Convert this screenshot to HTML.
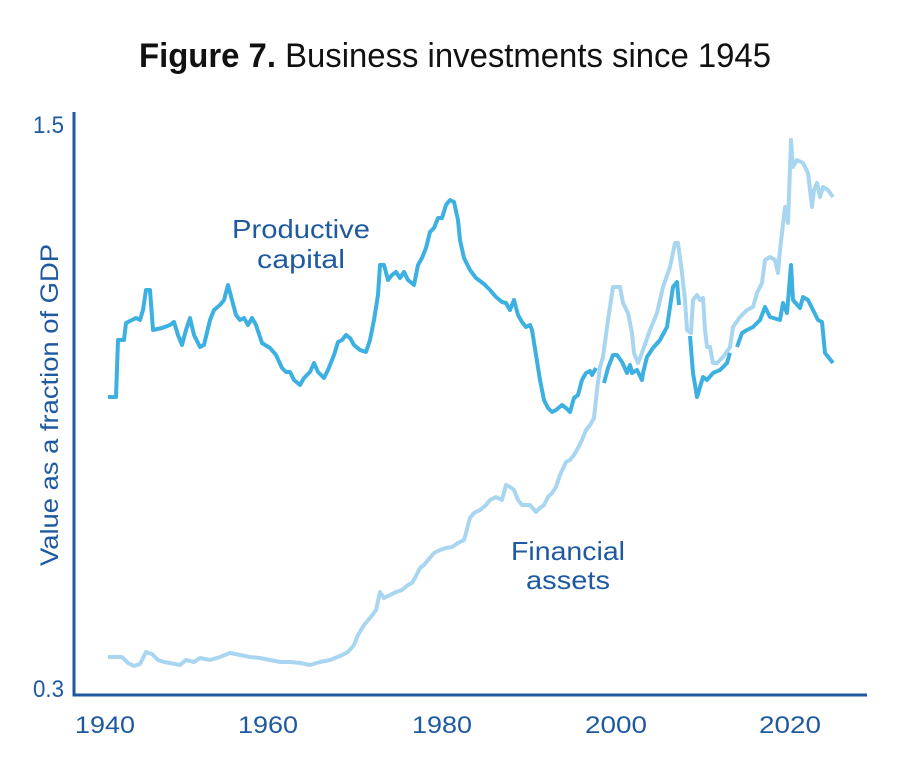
<!DOCTYPE html>
<html><head><meta charset="utf-8"><style>
html,body{margin:0;padding:0;background:#fff;width:900px;height:774px;overflow:hidden}
</style></head><body>
<svg width="900" height="774" viewBox="0 0 900 774" xmlns="http://www.w3.org/2000/svg" font-family="Liberation Sans, sans-serif">
<text x="455" y="67" text-anchor="middle" font-size="34" fill="#111" textLength="632" lengthAdjust="spacingAndGlyphs"><tspan font-weight="bold">Figure 7.</tspan> Business investments since 1945</text>
<g fill="#1f5aa0">
<text x="64" y="133" text-anchor="end" font-size="24" textLength="31" lengthAdjust="spacingAndGlyphs">1.5</text>
<text x="64" y="697" text-anchor="end" font-size="24" textLength="31" lengthAdjust="spacingAndGlyphs">0.3</text>
<text x="105" y="733" text-anchor="middle" font-size="24" textLength="60" lengthAdjust="spacingAndGlyphs">1940</text>
<text x="268" y="733" text-anchor="middle" font-size="24" textLength="60" lengthAdjust="spacingAndGlyphs">1960</text>
<text x="442" y="733" text-anchor="middle" font-size="24" textLength="60" lengthAdjust="spacingAndGlyphs">1980</text>
<text x="616" y="733" text-anchor="middle" font-size="24" textLength="62" lengthAdjust="spacingAndGlyphs">2000</text>
<text x="790" y="733" text-anchor="middle" font-size="24" textLength="62" lengthAdjust="spacingAndGlyphs">2020</text>
<text transform="translate(58,405) rotate(-90)" text-anchor="middle" font-size="25" textLength="322" lengthAdjust="spacingAndGlyphs">Value as a fraction of GDP</text>
<text x="301" y="238" text-anchor="middle" font-size="26" textLength="138" lengthAdjust="spacingAndGlyphs">Productive</text>
<text x="301" y="268" text-anchor="middle" font-size="26" textLength="88" lengthAdjust="spacingAndGlyphs">capital</text>
<text x="568" y="560" text-anchor="middle" font-size="26" textLength="114" lengthAdjust="spacingAndGlyphs">Financial</text>
<text x="568" y="589" text-anchor="middle" font-size="26" textLength="84" lengthAdjust="spacingAndGlyphs">assets</text>
</g>
<path d="M74 112 V695 H867" fill="none" stroke="#1f5aa0" stroke-width="3"/>
<polyline fill="none" stroke="#a8d6f0" stroke-width="4" stroke-linejoin="round" points="108,657 122,657 128,663 134,666 140,664 146,652 152,654 158,660 164,662 170,663 180,665 186,660 194,662 200,658 210,660 220,657 230,653 240,655 250,657 260,658 270,660 280,662 290,662 300,663 310,665 320,662 330,660 340,656 348,652 354,645 358,635 364,625 370,618 376,610 380,592 384,598 390,595 396,592 402,590 408,585 412,583 416,576 420,568 424,565 428,560 434,553 440,550 446,548 452,547 458,543 464,540 466,533 470,518 474,513 480,510 486,505 490,500 496,497 502,500 506,485 510,487 514,490 518,500 522,505 530,505 536,512 540,508 544,505 548,497 552,493 556,487 560,475 566,462 570,460 574,455 578,448 582,440 586,430 590,425 594,418 597,390 600,367 603,357 608,320 613,287 620,287 623,303 628,313 632,333 634,353 638,363 643,350 650,330 657,313 663,287 670,267 675,243 678,243 682,273 685,300 687,330 691,333 693,300 697,295 700,300 703,298 705,330 707,347 710,347 713,363 717,363 723,357 730,347 733,327 740,317 747,310 753,307 757,293 762,283 765,260 770,257 775,260 778,273 780,250 782,233 785,207 788,223 791,140 793,167 797,160 803,163 808,173 812,207 814,190 817,183 820,197 823,187 828,190 833,197"/>
<polyline fill="none" stroke="#3db0e2" stroke-width="4" stroke-linejoin="round" points="108,397 116,397 118,340 124,340 126,323 132,320 136,318 140,320 143,310 146,290 150,290 153,330 162,328 170,325 174,322 178,335 182,345 186,330 190,318 194,335 200,347 204,345 210,320 214,310 220,305 224,300 228,285 232,300 236,315 240,320 244,318 248,325 252,318 256,325 262,343 270,348 276,355 282,368 286,372 290,372 294,380 300,385 304,378 310,372 314,363 318,372 324,378 328,370 334,355 338,342 342,340 346,335 350,338 354,345 360,350 366,352 370,340 374,320 378,295 380,265 384,265 388,280 392,275 396,272 400,278 404,272 408,280 414,285 418,265 422,258 426,248 430,232 434,228 438,218 442,218 446,205 450,200 454,202 458,220 460,240 464,258 470,270 476,278 484,284 490,290 496,297 502,302 506,303 510,310 512,305 514,300 518,315 522,322 526,327 530,325 532,330 536,355 540,380 544,400 548,408 552,412 556,410 562,405 566,408 570,412 574,398 578,395 582,380 586,373 590,371 592,375 596,368"/>
<polyline fill="none" stroke="#3db0e2" stroke-width="4" stroke-linejoin="round" points="604,383 608,368 613,355 617,355 622,362 627,373 630,365 632,373 637,370 642,380 643,373 647,357 653,348 660,340 667,327 673,287 677,282 679,305"/>
<polyline fill="none" stroke="#3db0e2" stroke-width="4" stroke-linejoin="round" points="690,336 693,373 697,397 700,387 703,377 707,380 713,373 720,370 727,363 730,353"/>
<polyline fill="none" stroke="#3db0e2" stroke-width="4" stroke-linejoin="round" points="737,347 742,333 747,330 753,327 760,320 765,307 770,317 780,320 783,303 787,313 791,265 793,300 800,308 803,297 808,300 813,310 818,320 822,322 825,353 833,363"/>
</svg>
</body></html>
